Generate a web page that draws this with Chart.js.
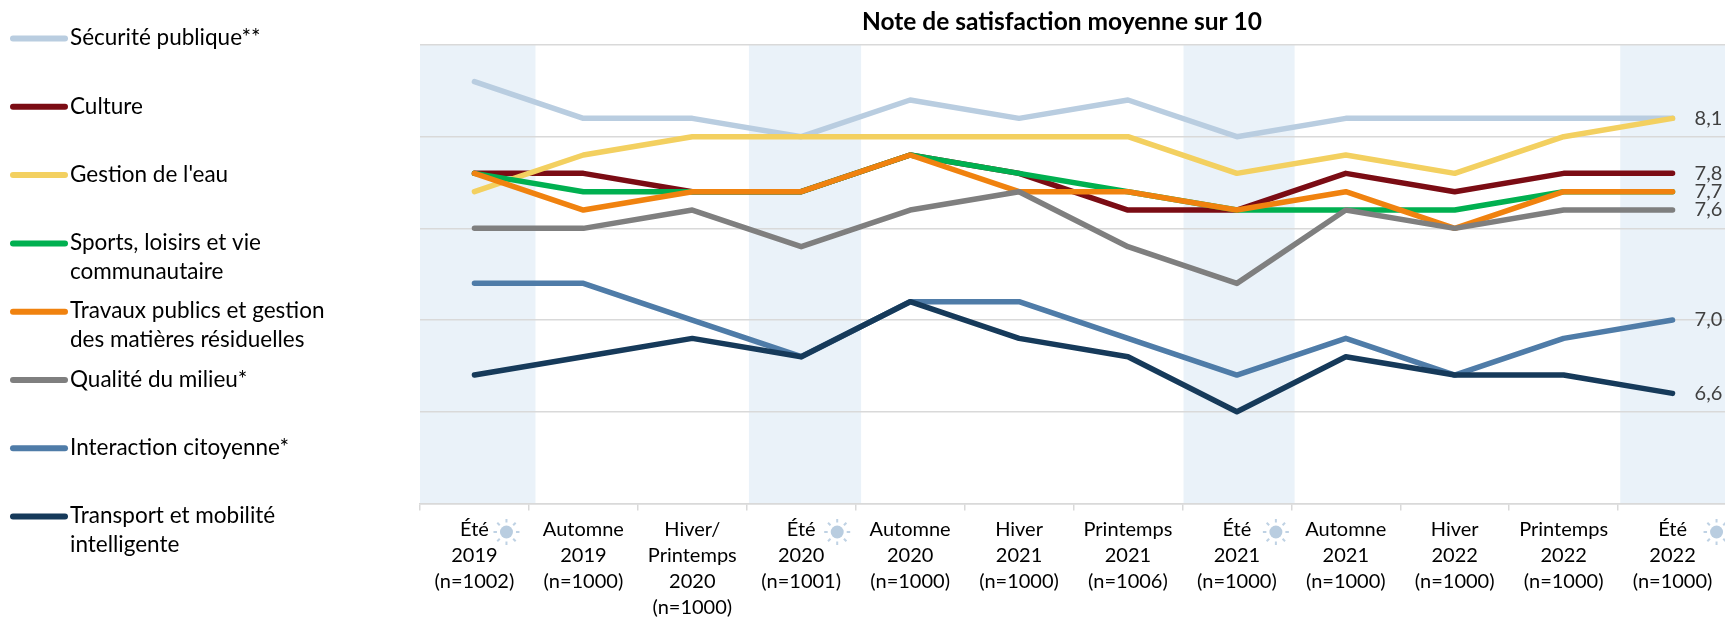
<!DOCTYPE html>
<html><head><meta charset="utf-8">
<style>html,body{margin:0;padding:0;background:#fff;overflow:hidden;width:1725px;height:618px}canvas{display:block}</style>
<script src="https://cdn.jsdelivr.net/npm/chart.js@4"></script></head>
<body><canvas id="c" width="1727" height="618"></canvas>
<script>
const categories=[["Été","2019","(n=1002)"],["Automne","2019","(n=1000)"],["Hiver/","Printemps","2020","(n=1000)"],["Été","2020","(n=1001)"],["Automne","2020","(n=1000)"],["Hiver","2021","(n=1000)"],["Printemps","2021","(n=1006)"],["Été","2021","(n=1000)"],["Automne","2021","(n=1000)"],["Hiver","2022","(n=1000)"],["Printemps","2022","(n=1000)"],["Été","2022","(n=1000)"]];
const securite=[8.3,8.1,8.1,8.0,8.2,8.1,8.2,8.0,8.1,8.1,8.1,8.1];
const culture=[7.8,7.8,7.7,7.7,7.9,7.8,7.6,7.6,7.8,7.7,7.8,7.8];
const eau=[7.7,7.9,8.0,8.0,8.0,8.0,8.0,7.8,7.9,7.8,8.0,8.1];
const sports=[7.8,7.7,7.7,7.7,7.9,7.8,7.7,7.6,7.6,7.6,7.7,7.7];
const travaux=[7.8,7.6,7.7,7.7,7.9,7.7,7.7,7.6,7.7,7.5,7.7,7.7];
const milieu=[7.5,7.5,7.6,7.4,7.6,7.7,7.4,7.2,7.6,7.5,7.6,7.6];
const interaction=[7.2,7.2,7.0,6.8,7.1,7.1,6.9,6.7,6.9,6.7,6.9,7.0];
const transport=[6.7,6.8,6.9,6.8,7.1,6.9,6.8,6.5,6.8,6.7,6.7,6.6];
const seriesNames=[["Sécurité publique**"],["Culture"],["Gestion de l'eau"],["Sports, loisirs et vie","communautaire"],["Travaux publics et gestion","des matières résiduelles"],["Qualité du milieu*"],["Interaction citoyenne*"],["Transport et mobilité","intelligente"]];
const seriesValues=[securite,culture,eau,sports,travaux,milieu,interaction,transport];
const seriesColors=["#b9cde0","#7b0c14","#f3d060","#00b050","#f0820f","#7f7f7f","#4f7ca8","#163a5a"];
const summerBands=[[-0.5,0.56],[2.52,3.55],[6.51,7.53],[10.52,11.5]];
const summerIdx=[0,3,7,11];
const sunOffsets=[32,36,39,44];
const FONT='Lato, "Open Sans", sans-serif';
const deco={id:'deco',
 beforeDraw(ch){const {ctx,chartArea:a,scales:{x}}=ch;const step=x.getPixelForValue(1)-x.getPixelForValue(0);
  ctx.save();ctx.fillStyle='#eaf2f9';
  summerBands.forEach(b=>{const l=x.getPixelForValue(0)+b[0]*step,r=x.getPixelForValue(0)+b[1]*step;ctx.fillRect(l,a.top,r-l,a.bottom-a.top);});
  ctx.restore();},
 afterDraw(ch){const {ctx,scales:{x,y}}=ch;ctx.save();
  // end labels
  ctx.font='20px '+FONT;ctx.fillStyle='#404040';ctx.textBaseline='middle';ctx.textAlign='left';
  const seen=new Set();seriesValues.forEach(v=>{const e=v[v.length-1];if(seen.has(e))return;seen.add(e);
   ctx.fillText(e.toFixed(1).replace('.',','),x.getPixelForValue(11)+22,y.getPixelForValue(e));});
  // suns
  summerIdx.forEach((i,k)=>{const cx=x.getPixelForValue(i)+sunOffsets[k],cy=532;
   ctx.fillStyle='#b9cde0';ctx.beginPath();ctx.arc(cx,cy,6.5,0,Math.PI*2);ctx.fill();
   ctx.strokeStyle='#bfd2e4';ctx.lineWidth=2;
   for(let r=0;r<8;r++){const t=r*Math.PI/4;ctx.beginPath();ctx.moveTo(cx+Math.cos(t)*9.5,cy+Math.sin(t)*9.5);ctx.lineTo(cx+Math.cos(t)*13,cy+Math.sin(t)*13);ctx.stroke();}
  });
  // legend
  ctx.lineCap='round';ctx.lineWidth=6;ctx.font='22.5px '+FONT;ctx.fillStyle='#000';ctx.textBaseline='middle';
  seriesNames.forEach((n,i)=>{const ly=38.5+i*68.3;
   ctx.strokeStyle=seriesColors[i];ctx.beginPath();ctx.moveTo(13,ly);ctx.lineTo(65,ly);ctx.stroke();
   n.forEach((t,j)=>ctx.fillText(t,70,ly-0.5+j*29));});
  // title
  ctx.font='bold 24.5px '+FONT;ctx.textAlign='center';ctx.fillText('Note de satisfaction moyenne sur 10',1062,22);
  ctx.restore();}};
new Chart(document.getElementById('c'),{type:'line',
 data:{labels:categories,datasets:seriesValues.map((v,i)=>({label:seriesNames[i].join(' '),data:v,borderColor:seriesColors[i],borderWidth:5.5,borderCapStyle:'round',borderJoinStyle:'round',pointRadius:0,tension:0,fill:false,order:seriesValues.length-i}))},
 plugins:[deco],
 options:{responsive:false,animation:false,devicePixelRatio:1,
  layout:{padding:{left:420,top:45,right:0,bottom:0}},
  plugins:{legend:{display:false},tooltip:{enabled:false},title:{display:false}},
  scales:{
   x:{offset:true,afterFit(s){s.height=114.6;},
    grid:{offset:true,drawOnChartArea:false,drawTicks:true,tickLength:7,color:'#d9d9d9',lineWidth:1.5},
    border:{color:'#d9d9d9',width:1.5},
    ticks:{autoSkip:false,maxRotation:0,minRotation:0,padding:6,color:'#000',font:{family:FONT,size:20,lineHeight:1.3}}},
   y:{min:6,max:8.5,afterFit(s){s.width=0;},
    ticks:{display:false,stepSize:0.5},
    grid:{color:'#d9d9d9',lineWidth:1.5,drawTicks:false},border:{display:false}}
  }}});
</script></body></html>
